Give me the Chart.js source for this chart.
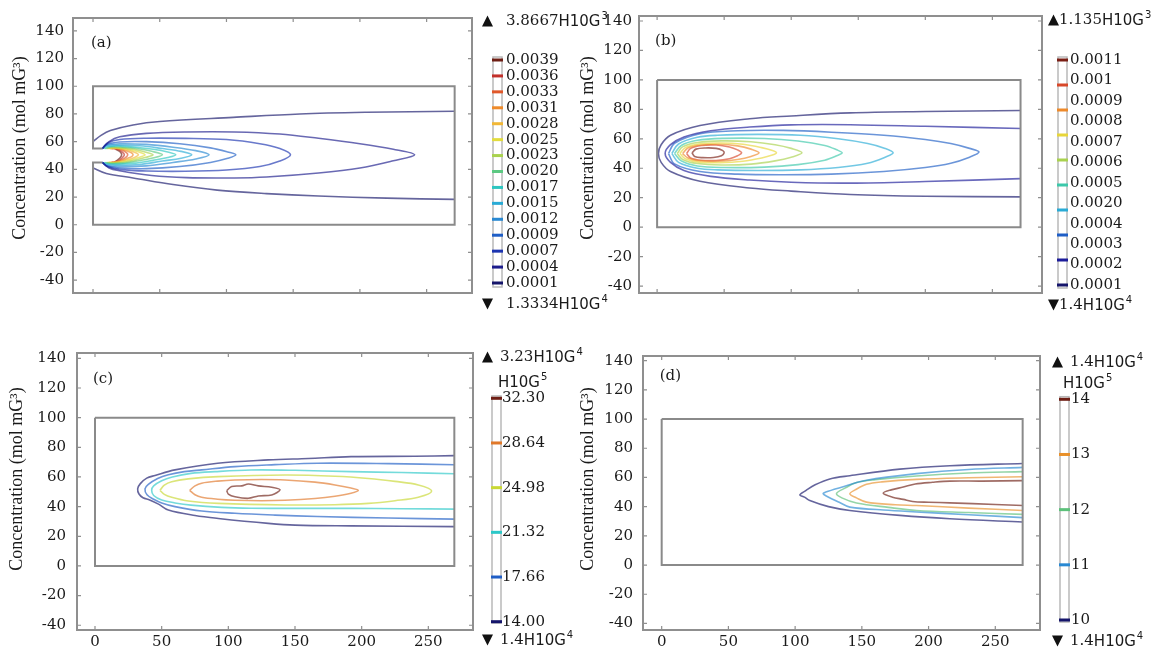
<!DOCTYPE html>
<html>
<head>
<meta charset="utf-8">
<title>Concentration contours</title>
<script src="https://cdn.jsdelivr.net/npm/chart.js@4.4.1/dist/chart.umd.min.js"></script>
<style>
  html, body { margin: 0; padding: 0; background: #fff; }
  #wrap { position: relative; width: 1154px; height: 652px; overflow: hidden; }
  #wrap canvas { position: absolute; }
</style>
</head>
<body>
<div id="wrap">
  <canvas id="chartA" width="620" height="326" style="left:0;top:0"></canvas>
  <canvas id="chartB" width="577" height="326" style="left:577px;top:0"></canvas>
  <canvas id="chartC" width="620" height="326" style="left:0;top:326px"></canvas>
  <canvas id="chartD" width="577" height="326" style="left:577px;top:326px"></canvas>
</div>
<script>
// ---------------------------------------------------------------
// Achsen
// ---------------------------------------------------------------
const xTicks = [0, 50, 100, 150, 200, 250];
const yTicks = [-40, -20, 0, 20, 40, 60, 80, 100, 120, 140];
const yTitle = "Concentration (mol mG³)";

// ---------------------------------------------------------------
// (a) Konturstufen (unten -> oben) und Linien [Stufe, Punkte]
// ---------------------------------------------------------------
const levelsA = ["0.0001", "0.0004", "0.0007", "0.0009", "0.0012", "0.0015", "0.0017", "0.0020",
                 "0.0023", "0.0025", "0.0028", "0.0031", "0.0033", "0.0036", "0.0039"];
const rangeA = ["3.8667", "3", "1.3334", "4"];
const domainA = [[7, 55], [0, 55], [0, 100], [271, 100], [271, 0], [0, 0], [0, 45], [7, 45]];
const contoursA = [
  [0, [[0, 60], [6, 64.5], [13, 68], [30, 72], [50, 74.5], [105, 77.5], [155, 80], [205, 81.2], [271, 82]]],
  [0, [[0, 41], [10, 37], [30, 33.8], [60, 29], [93, 25], [130, 22.5], [169, 20.7], [220, 19.2], [271, 18.3]]],
  [1, [[7, 55], [12, 60], [20, 63.5], [40, 66], [70, 67], [106, 67], [140, 65.5], [169, 62.4], [200, 58.5], [225, 54.5], [241, 50.5],
       [225, 46.2], [200, 41], [169, 37.4], [130, 34.5], [106, 33.8], [70, 34], [44, 35.5], [20, 39], [12, 41], [7, 45]]],
  [2, [[7, 55], [11, 59], [20, 61.5], [40, 62.5], [69, 62.4], [100, 61.5], [125, 58.5], [140, 55], [148, 50.5],
       [140, 46], [125, 42], [100, 39.5], [69, 38.6], [40, 38.8], [20, 40], [11, 42], [7, 45]]],
  [3, [[7, 55], [10, 58], [20, 59.8], [40, 60], [65, 58.5], [88, 55.5], [101, 52.5], [107, 50.5],
       [101, 48], [88, 45], [65, 42], [40, 40.5], [20, 41], [10, 42.5], [7, 45]]],
  [4, [[7, 55], [10, 57.5], [20, 58.5], [40, 58], [60, 56], [77, 53.5], [87, 50.5],
       [77, 47.5], [60, 45], [40, 42.5], [20, 42], [10, 43], [7, 45]]],
  [5, [[7, 55], [10, 57], [20, 57.5], [35, 57], [52, 55], [66, 53], [74, 50.5],
       [66, 48], [52, 46], [35, 43.5], [20, 43], [10, 43.5], [7, 45]]],
  [6, [[8, 55], [11, 56.5], [20, 56.8], [32, 56], [45, 54.5], [56, 52.5], [62, 50.5],
       [56, 48.5], [45, 46.5], [32, 44.5], [20, 43.8], [11, 44], [8, 45]]],
  [7, [[9, 55], [13, 56.2], [22, 56], [33, 55], [44, 53], [52, 50.5], [44, 48], [33, 46], [22, 44.5], [13, 44.2], [9, 45]]],
  [8, [[10, 55], [14, 55.8], [22, 55.5], [31, 54.5], [39, 52.5], [45, 50.5], [39, 48.5], [31, 46.5], [22, 45], [14, 44.5], [10, 45]]],
  [9, [[11, 55], [15, 55.6], [22, 55.2], [29, 54], [35, 52.3], [39, 50.5], [35, 48.7], [29, 47], [22, 45.5], [15, 44.8], [11, 45]]],
  [10, [[12, 55], [16, 55.4], [22, 54.8], [28, 53.5], [32, 52], [34, 50.5], [32, 49], [28, 47.5], [22, 46], [16, 45], [12, 45]]],
  [11, [[13, 55], [17, 55.2], [22, 54.4], [26, 53], [29, 51.8], [30, 50.5], [29, 49.2], [26, 48], [22, 46.5], [17, 45.3], [13, 45]]],
  [12, [[14, 55], [18, 54.8], [22, 53.8], [25, 52], [26, 50.5], [25, 49], [22, 47.2], [18, 45.6], [14, 45.2]]],
  [13, [[16, 55], [19, 54.3], [22, 52.5], [23.5, 50.5], [22, 48.5], [19, 46], [16, 45.4]]],
  [14, [[17, 54.5], [20, 53], [21.5, 50.5], [20, 48], [17, 45.8]]]
];

// ---------------------------------------------------------------
// (b)
// ---------------------------------------------------------------
const levelsB = ["0.0001", "0.0002", "0.0003", "0.0004", "0.0020", "0.0005",
                 "0.0006", "0.0007", "0.0008", "0.0009", "0.001", "0.0011"];
const rangeB = ["1.135", "3", "1.4", "4"];
const domainB = [[0, 100], [271, 100], [271, 0], [0, 0], [0, 100]];
const contoursB = [
  [0, [[271, 79.2], [200, 78.5], [144, 77.6], [100, 75.5], [69, 73.6], [32, 69], [10, 62.4], [3, 56], [1, 50],
       [3, 44], [10, 37.8], [32, 31.2], [69, 26.6], [100, 24.5], [144, 22.2], [200, 21], [271, 20.6]]],
  [1, [[271, 67], [200, 68.5], [144, 69.6], [100, 69.5], [69, 68], [40, 65.5], [20, 61.3], [10, 56], [6, 50],
       [10, 44], [20, 38.5], [40, 34.5], [69, 32], [100, 30.5], [144, 29.9], [200, 31], [271, 33]]],
  [2, [[8.5, 50], [13, 57], [32, 63.5], [60, 65.5], [94, 65.7], [130, 64.5], [169, 62.4], [200, 59.5], [219, 56.8], [233, 53.5], [240, 51],
       [233, 47.5], [219, 43.4], [200, 40.5], [169, 37.8], [130, 36], [94, 35.6], [60, 36], [32, 37.8], [13, 43], [8.5, 50]]],
  [3, [[11, 50], [16, 56.5], [30, 61], [45, 62.4], [75, 63], [107, 62.4], [135, 60], [157, 56.8], [170, 53.5], [176, 50.5],
       [170, 47.5], [157, 43.4], [135, 40.5], [107, 38.9], [75, 38.5], [45, 38.9], [30, 40], [16, 44], [11, 50]]],
  [4, [[13, 50], [18, 55.5], [30, 59], [50, 60.3], [80, 60.2], [105, 58.5], [125, 55.5], [134, 52.5], [138, 50.5],
       [134, 48.5], [125, 45.5], [105, 42.5], [80, 40.8], [50, 40.5], [30, 41.5], [18, 45], [13, 50]]],
  [5, [[15, 50], [19, 54.5], [30, 57.5], [48, 58.6], [70, 58], [88, 56], [100, 53.5], [108, 50.5],
       [100, 47.5], [88, 45], [70, 42.8], [48, 42.2], [30, 43.2], [19, 46], [15, 50]]],
  [6, [[17, 50], [21, 54], [31, 56.5], [47, 57.2], [64, 56.3], [78, 54], [86, 52], [89, 50.5],
       [86, 49], [78, 47], [64, 44.8], [47, 43.8], [31, 44.2], [21, 46.5], [17, 50]]],
  [7, [[19, 50], [23, 53.8], [32, 55.8], [46, 56.3], [60, 55.2], [70, 53], [76, 50.5],
       [70, 48], [60, 46], [46, 44.8], [32, 45], [23, 47], [19, 50]]],
  [8, [[22, 50], [25, 53.5], [33, 55.5], [44, 55.8], [54, 54.5], [60, 52.5], [63, 50.5],
       [60, 48.5], [54, 46.5], [44, 45.3], [33, 45.4], [25, 47], [22, 50]]],
  [9, [[26, 50.5], [29, 53], [36, 53.8], [44, 53.5], [49, 52], [50, 50.5], [48, 48.5], [42, 47.3], [34, 47.2], [28, 48], [26, 50.5]]]
];

// ---------------------------------------------------------------
// (c)
// ---------------------------------------------------------------
const levelsC = ["14.00", "17.66", "21.32", "24.98", "28.64", "32.30"];
const rangeC = ["3.23", "4", "1.4", "4"];
const domainC = [[0, 100], [269.5, 100], [269.5, 0], [0, 0], [0, 100]];
const contoursC = [
  [0, [[269.5, 74.4], [240, 74], [192, 73.7], [160, 72.5], [130, 71.5], [92, 69.3], [60, 64.8], [45, 61], [38.8, 59.2], [34, 55.5], [32, 52],
       [33, 48.5], [36, 46], [41, 44.5], [48, 41.5], [55, 37.7], [75, 34], [92.5, 32], [130, 28.7], [150, 27.5], [192, 27], [269.5, 26.5]]],
  [1, [[269.5, 68.2], [220, 69], [167, 69.3], [135, 68.3], [105, 67], [80, 64.8], [67, 63.6], [55, 61.5], [47, 59], [40, 55], [37.5, 52],
       [39, 48], [44, 45], [50, 42.5], [60, 40], [80, 37], [105, 35.5], [135, 34.3], [167, 33.3], [220, 32.3], [269.5, 31.6]]],
  [2, [[269.5, 62.2], [230, 63], [192, 63.6], [150, 64.5], [117, 64.7], [90, 63.6], [72, 62.4], [58, 60], [50, 57.5], [44, 54], [42.5, 51],
       [44, 47.5], [50, 44.5], [60, 42.5], [72, 41], [95, 39.5], [117, 38.9], [150, 38.8], [192, 38.8], [230, 38.6], [269.5, 38.3]]],
  [3, [[48.7, 51], [52, 54.5], [57.5, 56.8], [70, 58.7], [92.5, 60.2], [142.5, 61.3], [180, 60.5], [205, 59], [225, 57], [242.5, 54.6], [252.5, 50.5],
       [242.5, 46.3], [225, 44], [205, 42.2], [180, 41.3], [142.5, 41.1], [92.5, 42.2], [70, 43.8], [57.5, 46.3], [52, 48.3], [48.7, 51]]],
  [4, [[71, 51], [75, 54], [80, 55.8], [92, 57.2], [105, 58], [125, 58.3], [142.5, 58], [165, 56.5], [180, 54.6], [192, 52.5], [197.5, 51],
       [192, 49], [180, 47], [165, 45.5], [142.5, 44.3], [125, 44], [105, 44.3], [92, 45], [80, 46.3], [75, 48], [71, 51]]],
  [5, [[98.8, 50.8], [102.5, 53.5], [110, 54], [115, 55.3], [122.5, 54], [132.5, 53.1], [138.8, 51.4], [132.5, 47.9],
       [122.5, 47.2], [115, 45.6], [105, 46.7], [100, 48.5], [98.8, 50.8]]]
];

// ---------------------------------------------------------------
// (d)
// ---------------------------------------------------------------
const levelsD = ["10", "11", "12", "13", "14"];
const rangeD = ["1.4", "4", "1.4", "4"];
const domainD = [[0, 100], [270.5, 100], [270.5, 0], [0, 0], [0, 100]];
const contoursD = [
  [0, [[270.5, 69.6], [216, 68], [178.5, 65.7], [141, 61.2], [126, 59], [115, 55], [108, 51], [103.5, 48], [107, 46.5], [111, 44.2],
       [125, 40], [141, 37.4], [178.5, 34], [216, 31.7], [270.5, 29.5]]],
  [1, [[270.5, 66.9], [230, 65.5], [191, 62.6], [153.5, 58.1], [133.5, 53], [123, 50], [121, 48.8], [124, 47], [133, 43], [141, 39.7],
       [170, 37.5], [191, 36.3], [230, 34.5], [270.5, 32.5]]],
  [2, [[270.5, 64], [230, 63], [191, 61], [160, 58.5], [146, 56.5], [137, 52.5], [131, 49], [135, 46], [146, 42.5], [170, 39.5],
       [191, 37.4], [230, 36], [270.5, 34.7]]],
  [3, [[270.5, 60.5], [230, 59.8], [191, 58.7], [165, 57], [153.5, 55.3], [145, 51.5], [141, 48.8], [146, 46], [153.5, 43.1],
       [175, 41.3], [191, 40.8], [230, 39], [270.5, 37.4]]],
  [4, [[270.5, 57.8], [240, 57.5], [216, 57.5], [203, 56.7], [190, 55.5], [181, 53.4], [172, 51.5], [166, 49.2], [173, 46.5],
       [181, 45], [188, 43.5], [200, 43], [216, 42.6], [250, 41.5], [270.5, 40.8]]]
];

// Farben der Stufen (unten -> oben)
const colorsA = ["#15156b", "#1c1c8c", "#1c34b0", "#1f5ec6", "#2888d2", "#29abd6", "#2cc6c0", "#5cc982",
                 "#a9d24e", "#e2dc3e", "#f2b736", "#ee8a2a", "#e0582a", "#c2302a", "#6e1e14"];
const colorsB = ["#15156b", "#1c1c9a", "#1f5ec6", "#29abd6", "#3cc8aa", "#a9d24e", "#e8d63a", "#ee8a2a", "#d8482a", "#7a1e14"];
const colorsC = ["#15156b", "#1f5ec6", "#2cc8c8", "#c9d834", "#e0782a", "#6e1e14"];
const colorsD = ["#15156b", "#2888d2", "#5cc07a", "#e8902a", "#6e1e14"];

const SERIF = "'DejaVu Serif', serif";
const SANS = "'DejaVu Sans', sans-serif";
const TEXT = "#1a1a1a";

// hex -> rgba mit Deckkraft
function tint(hex, a) {
  const n = parseInt(hex.slice(1), 16);
  return `rgba(${n >> 16},${(n >> 8) & 255},${n & 255},${a})`;
}

// "3.8667H10G³" -> Zahl + H10G + hochgestellter Exponent
function drawExpLabel(ctx, x, y, num, exp) {
  ctx.textAlign = "left";
  ctx.textBaseline = "middle";
  ctx.fillStyle = TEXT;
  if (num) {
    ctx.font = "15px " + SERIF;
    ctx.fillText(num, x, y);
    x += ctx.measureText(num).width;
  }
  ctx.font = "15px " + SANS;
  ctx.fillText("H10G", x, y + 1);
  x += ctx.measureText("H10G").width;
  ctx.font = "10px " + SANS;
  ctx.fillText(exp, x + 1, y - 5);
}

function triangle(ctx, x, y, up) {
  ctx.beginPath();
  if (up) {
    ctx.moveTo(x, y + 5.5); ctx.lineTo(x + 5.5, y - 5.5); ctx.lineTo(x + 11, y + 5.5);
  } else {
    ctx.moveTo(x, y - 5.5); ctx.lineTo(x + 5.5, y + 5.5); ctx.lineTo(x + 11, y - 5.5);
  }
  ctx.closePath();
  ctx.fillStyle = "#111";
  ctx.fill();
}

// ---------------------------------------------------------------
// Panels
// ---------------------------------------------------------------
const panels = [
  { id: "chartA", tag: "(a)", levels: levelsA, colors: colorsA, contours: contoursA, domain: domainA, range: rangeA,
    area: { l: 73, r: 472, t: 15, b: 293 }, xRange: [-15, 284], yRange: [-49.3, 149.3], showX: false,
    tickPad: 9, title: [20, 148], tagY: 43,
    bar: { x: 492, top: 57, bottom: 287, first: 60, last: 283, labelDx: 14 },
    hi: { tri: 482, text: 506, y: 21 }, lo: { tri: 482, text: 506, y: 304 }, unit: null },
  { id: "chartB", tag: "(b)", levels: levelsB, colors: colorsB, contours: contoursB, domain: domainB, range: rangeB,
    area: { l: 62, r: 465, t: 15, b: 293 }, xRange: [-13.5, 287], yRange: [-44.7, 143.4], showX: false,
    tickPad: 7, title: [11, 148], tagY: 41,
    bar: { x: 480, top: 57, bottom: 288, first: 60, last: 285, labelDx: 13 },
    hi: { tri: 471, text: 482, y: 20 }, lo: { tri: 471, text: 482, y: 305 }, unit: null },
  { id: "chartC", tag: "(c)", levels: levelsC, colors: colorsC, contours: contoursC, domain: domainC, range: rangeC,
    area: { l: 77, r: 473, t: 27, b: 304 }, xRange: [-13.5, 283.5], yRange: [-43.2, 143.6], showX: true,
    tickPad: 11, title: [17.5, 153], tagY: 53,
    bar: { x: 491, top: 70, bottom: 297, first: 72.3, last: 295.7, labelDx: 11 },
    hi: { tri: 482, text: 500, y: 31 }, lo: { tri: 482, text: 500, y: 314 }, unit: [498, 56] },
  { id: "chartD", tag: "(d)", levels: levelsD, colors: colorsD, contours: contoursD, domain: domainD, range: rangeD,
    area: { l: 66, r: 463, t: 30, b: 304 }, xRange: [-14, 283.5], yRange: [-44.5, 143.2], showX: true,
    tickPad: 10, title: [11.5, 153], tagY: 50,
    bar: { x: 482, top: 70.7, bottom: 296, first: 73.3, last: 294, labelDx: 12 },
    hi: { tri: 475, text: 493, y: 36 }, lo: { tri: 475, text: 493, y: 315 }, unit: [486, 57] }
];

// Rahmen, Innenstriche, Achsentitel, Farbskala
function decorPlugin(p) {
  return {
    id: "decor",
    afterDraw(chart) {
      const ctx = chart.ctx;
      const a = chart.chartArea;
      const xs = chart.scales.x, ys = chart.scales.y;
      ctx.save();

      // Rahmen
      ctx.strokeStyle = "#8f8f8f";
      ctx.lineWidth = 2;
      ctx.strokeRect(a.left, a.top, a.right - a.left, a.bottom - a.top);

      // Striche nach innen, alle vier Seiten
      ctx.lineWidth = 1.2;
      ctx.beginPath();
      xs.ticks.forEach((t) => {
        const px = xs.getPixelForValue(t.value);
        ctx.moveTo(px, a.top); ctx.lineTo(px, a.top + 4);
        ctx.moveTo(px, a.bottom); ctx.lineTo(px, a.bottom - 4);
      });
      ys.ticks.forEach((t) => {
        const py = ys.getPixelForValue(t.value);
        ctx.moveTo(a.left, py); ctx.lineTo(a.left + 4, py);
        ctx.moveTo(a.right, py); ctx.lineTo(a.right - 4, py);
      });
      ctx.stroke();

      // Panel-Kennung
      ctx.fillStyle = TEXT;
      ctx.font = "15px " + SERIF;
      ctx.textAlign = "left";
      ctx.textBaseline = "middle";
      ctx.fillText(p.tag, xs.getPixelForValue(0) - 2, p.tagY);

      // y-Titel
      ctx.save();
      ctx.translate(p.title[0], p.title[1]);
      ctx.rotate(-Math.PI / 2);
      ctx.font = "18px 'Liberation Serif', serif";
      ctx.textAlign = "center";
      ctx.fillText(yTitle, 0, 0);
      ctx.restore();

      // Farbskala
      const cb = p.bar;
      ctx.strokeStyle = "#b9b9b9";
      ctx.lineWidth = 1.5;
      ctx.strokeRect(cb.x + 1, cb.top, 9, cb.bottom - cb.top);
      const n = p.colors.length;
      p.colors.forEach((c, i) => {
        const y = cb.last - (cb.last - cb.first) * i / (n - 1);
        ctx.fillStyle = c;
        ctx.fillRect(cb.x, y - 1.5, 11, 3);
      });
      const m = p.levels.length;
      ctx.fillStyle = TEXT;
      ctx.font = "15px " + SERIF;
      ctx.textAlign = "left";
      ctx.textBaseline = "middle";
      p.levels.forEach((t, i) => {
        const y = cb.last - (cb.last - cb.first) * i / (m - 1);
        ctx.fillText(t, cb.x + cb.labelDx, y);
      });

      // Max / Min
      triangle(ctx, p.hi.tri, p.hi.y, true);
      drawExpLabel(ctx, p.hi.text, p.hi.y, p.range[0], p.range[1]);
      triangle(ctx, p.lo.tri, p.lo.y, false);
      drawExpLabel(ctx, p.lo.text, p.lo.y, p.range[2], p.range[3]);
      if (p.unit) drawExpLabel(ctx, p.unit[0], p.unit[1], "", "5");

      ctx.restore();
    }
  };
}

function makePanel(p) {
  const datasets = [{
    data: p.domain.map(([x, y]) => ({ x, y })),
    borderColor: "#8a8a8a",
    borderWidth: 2,
    tension: 0
  }];
  p.contours.forEach(([lvl, pts]) => {
    datasets.push({
      data: pts.map(([x, y]) => ({ x, y })),
      borderColor: tint(p.colors[lvl], 0.66),
      borderWidth: 1.6,
      tension: 0.35
    });
  });
  datasets.forEach((d) => {
    d.showLine = true;
    d.pointRadius = 0;
    d.pointHoverRadius = 0;
    d.fill = false;
  });

  const canvas = document.getElementById(p.id);
  const tickFont = { family: SERIF, size: 15 };

  new Chart(canvas, {
    type: "scatter",
    data: { datasets },
    options: {
      responsive: false,
      animation: false,
      events: [],
      layout: { padding: { left: 0, top: p.area.t, right: canvas.width - p.area.r, bottom: 0 } },
      plugins: { legend: { display: false }, tooltip: { enabled: false } },
      scales: {
        x: {
          type: "linear",
          min: p.xRange[0],
          max: p.xRange[1],
          grid: { display: false, drawTicks: false },
          border: { display: false },
          ticks: { display: p.showX, padding: 3, font: tickFont, color: TEXT, maxRotation: 0, autoSkip: false,
                   callback: (v) => String(v) },
          afterBuildTicks: (s) => { s.ticks = xTicks.map((v) => ({ value: v })); },
          afterFit: (s) => { s.height = canvas.height - p.area.b; }
        },
        y: {
          type: "linear",
          min: p.yRange[0],
          max: p.yRange[1],
          grid: { display: false, drawTicks: false },
          border: { display: false },
          ticks: { padding: p.tickPad, font: tickFont, color: TEXT, autoSkip: false,
                   callback: (v) => String(v) },
          afterBuildTicks: (s) => { s.ticks = yTicks.map((v) => ({ value: v })); },
          afterFit: (s) => { s.width = p.area.l; }
        }
      }
    },
    plugins: [decorPlugin(p)]
  });
}

panels.forEach(makePanel);
</script>
</body>
</html>
